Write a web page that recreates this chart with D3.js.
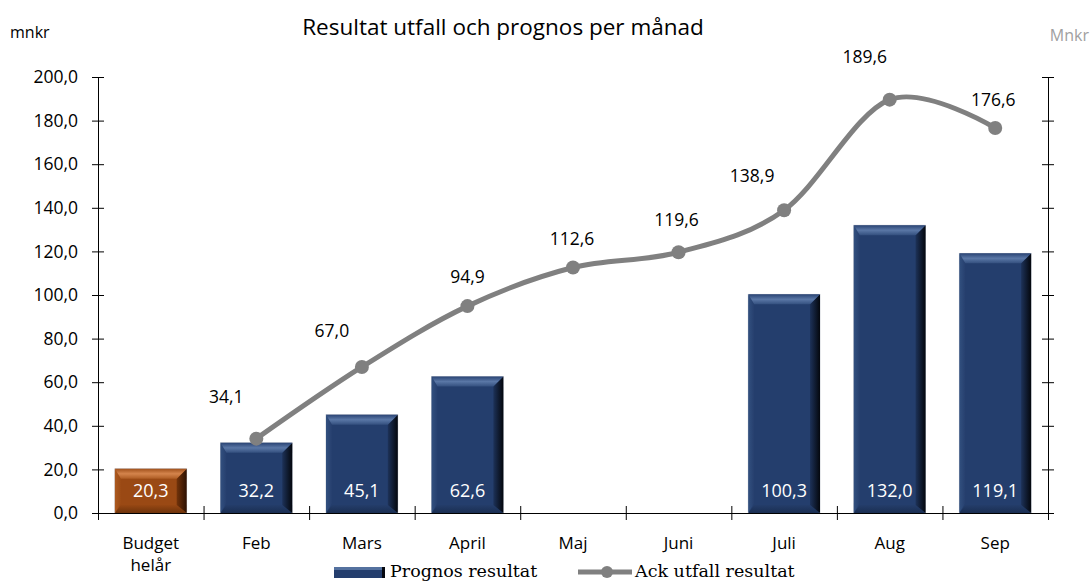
<!DOCTYPE html>
<html>
<head>
<meta charset="utf-8">
<script src="https://cdn.jsdelivr.net/npm/d3@7/dist/d3.min.js"></script>
<style>
	body { margin: 0; background: #fff; }
	svg { display: block; font-family: "Open Sans", sans-serif; }
</style>
</head>
<body>
<div id="chart"></div>
<script>
const categories = ["Budget\nhelår", "Feb", "Mars", "April", "Maj", "Juni", "Juli", "Aug", "Sep"];
const prognosResultat = [20.3, 32.2, 45.1, 62.6, null, null, 100.3, 132.0, 119.1];
const ackUtfall = [null, 34.1, 67.0, 94.9, 112.6, 119.6, 138.9, 189.6, 176.6];
const yTicks = [0, 20, 40, 60, 80, 100, 120, 140, 160, 180, 200];

const width = 1091, height = 582;
const plot = { left: 98, right: 1048, top: 77, bottom: 513 };
const fmt = v => d3.format(".1f")(v).replace(".", ",");

// label nudges for the line values (px), as placed in the original
const labelNudge = [null, [-30, -42], [-30, -36], [0, -29], [-1, -29], [-2, -32], [-32, -34], [-25, -43], [-2, -28]];

const svg = d3.select('#chart').append('svg')
	.attr('width', width)
	.attr('height', height);

const x = d3.scaleBand()
	.domain(categories)
	.range([plot.left, plot.right])
	.paddingInner(0.32)
	.paddingOuter(0.16);

const xEdge = d3.scaleLinear()
	.domain([0, categories.length])
	.range([plot.left, plot.right]);

const y = d3.scaleLinear()
	.domain([0, 200])
	.range([plot.bottom, plot.top]);

const defs = svg.append('defs');

function grad(id, dir, stops) {
	const g = defs.append('linearGradient').attr('id', id);
	if (dir === 'h') g.attr('x1', 0).attr('y1', 0).attr('x2', 1).attr('y2', 0);
	else g.attr('x1', 0).attr('y1', 0).attr('x2', 0).attr('y2', 1);
	stops.forEach(s => g.append('stop').attr('offset', s[0]).attr('stop-color', s[1]));
}

const palettes = {
	blue: {
		base: '#243e6d',
		top: [[0, '#2a4474'], [0.5, '#5a77a6'], [1, '#34507f']],
		right: [[0, '#1d3259'], [1, '#04070d']],
		left: [[0, '#32507f'], [1, '#263f6e']],
		bottom: [[0, '#243d6a'], [1, '#1a2e52']]
	},
	brown: {
		base: '#9a4914',
		top: [[0, '#a1511c'], [0.5, '#d4844c'], [1, '#ad5c24']],
		right: [[0, '#72330a'], [1, '#2c1102']],
		left: [[0, '#ac5a20'], [1, '#9c4b15']],
		bottom: [[0, '#974713'], [1, '#6e330b']]
	}
};
Object.entries(palettes).forEach(([k, p]) => {
	grad(k + '-top', 'v', p.top);
	grad(k + '-right', 'h', p.right);
	grad(k + '-left', 'h', p.left);
	grad(k + '-bottom', 'v', p.bottom);
});

// bars
const barData = categories.map((c, i) => ({ c, v: prognosResultat[i], pal: i === 0 ? 'brown' : 'blue' }))
	.filter(d => d.v !== null);

const bars = svg.append('g').attr('class', 'bars')
	.selectAll('g')
	.data(barData)
	.join('g');

const bev = 10;
bars.each(function(d) {
	const g = d3.select(this);
	const x0 = x(d.c), w = x.bandwidth();
	const y0 = y(d.v), h = y(0) - y(d.v);
	const b = Math.min(bev, h / 3);
	const p = palettes[d.pal];
	g.append('rect')
		.attr('x', x0).attr('y', y0).attr('width', w).attr('height', h)
		.attr('fill', p.base)
		.attr('stroke', '#c4c8d0').attr('stroke-width', 0.8);
	const pts = arr => arr.map(q => q.join(',')).join(' ');
	g.append('polygon').attr('fill', `url(#${d.pal}-left)`)
		.attr('points', pts([[x0, y0], [x0 + b * 0.6, y0 + b], [x0 + b * 0.6, y0 + h - b], [x0, y0 + h]]));
	g.append('polygon').attr('fill', `url(#${d.pal}-bottom)`)
		.attr('points', pts([[x0, y0 + h], [x0 + b * 0.6, y0 + h - b * 0.8], [x0 + w - b, y0 + h - b * 0.8], [x0 + w, y0 + h]]));
	g.append('polygon').attr('fill', `url(#${d.pal}-right)`)
		.attr('points', pts([[x0 + w, y0], [x0 + w, y0 + h], [x0 + w - b, y0 + h - b * 0.8], [x0 + w - b, y0 + b]]));
	g.append('polygon').attr('fill', `url(#${d.pal}-top)`)
		.attr('points', pts([[x0, y0], [x0 + w, y0], [x0 + w - b, y0 + b], [x0 + b * 0.6, y0 + b]]));
	g.append('text')
		.attr('x', x0 + w / 2)
		.attr('y', y(0) - 16)
		.attr('text-anchor', 'middle')
		.attr('fill', '#fff')
		.style('font-size', '18px')
		.text(fmt(d.v));
});

// axes
const yAxisL = d3.axisLeft(y).tickValues(yTicks).tickFormat(fmt).tickSizeInner(6).tickSizeOuter(0).tickPadding(14);
const gL = svg.append('g').attr('transform', `translate(${plot.left},0)`).call(yAxisL);
gL.selectAll('.tick line').attr('x1', 6);
gL.selectAll('text').style('font-size', '17.5px').attr('fill', '#000').style('font-family', '"Open Sans", sans-serif');

const yAxisR = d3.axisRight(y).tickValues(yTicks).tickFormat('').tickSizeInner(6).tickSizeOuter(0);
const gR = svg.append('g').attr('transform', `translate(${plot.right},0)`).call(yAxisR);
gR.selectAll('.tick line').attr('x1', -6);

const xAxis = d3.axisBottom(xEdge).tickValues(d3.range(0, categories.length + 1)).tickFormat('').tickSizeInner(7).tickSizeOuter(0);
const gX = svg.append('g').attr('transform', `translate(0,${plot.bottom})`).call(xAxis);
gX.selectAll('.tick line').attr('y1', -7);

svg.selectAll('.domain, .tick line').attr('stroke', '#000');

// category labels
svg.append('g').selectAll('text')
	.data(categories)
	.join('text')
	.attr('x', d => x(d) + x.bandwidth() / 2)
	.attr('y', 549)
	.attr('text-anchor', 'middle')
	.style('font-size', '17px')
	.each(function(d) {
		const t = d3.select(this);
		d.split('\n').forEach((s, i) => t.append('tspan')
			.attr('x', x(d) + x.bandwidth() / 2)
			.attr('dy', i ? 22 : 0)
			.text(s));
	});

// line
const lineData = categories.map((c, i) => ({ c, v: ackUtfall[i], i })).filter(d => d.v !== null);
const cx = d => x(d.c) + x.bandwidth() / 2;

const line = d3.line()
	.x(cx)
	.y(d => y(d.v))
	.curve(d3.curveCardinal.tension(0));

svg.append('path')
	.datum(lineData)
	.attr('d', line)
	.attr('fill', 'none')
	.attr('stroke', '#808080')
	.attr('stroke-width', 5)
	.attr('stroke-linecap', 'round');

svg.append('g').selectAll('circle')
	.data(lineData)
	.join('circle')
	.attr('cx', cx)
	.attr('cy', d => y(d.v))
	.attr('r', 7)
	.attr('fill', '#808080');

svg.append('g').selectAll('text')
	.data(lineData)
	.join('text')
	.attr('x', d => cx(d) + labelNudge[d.i][0])
	.attr('y', d => y(d.v) + labelNudge[d.i][1])
	.attr('dy', '0.35em')
	.attr('text-anchor', 'middle')
	.style('font-size', '17.5px')
	.attr('fill', '#000')
	.text(d => fmt(d.v));

// titles
svg.append('text').attr('x', 503).attr('y', 35).attr('text-anchor', 'middle')
	.style('font-size', '22.5px').text('Resultat utfall och prognos per månad');
svg.append('text').attr('x', 10).attr('y', 38).style('font-size', '16px').text('mnkr');
svg.append('text').attr('x', 1089).attr('y', 41).attr('text-anchor', 'end')
	.style('font-size', '16px').attr('fill', '#a0a0a0').text('Mnkr');

// legend
const lg = svg.append('g').style('font-family', '"DejaVu Serif", serif').style('font-size', '17.5px');
lg.append('rect').attr('x', 334).attr('y', 567).attr('width', 51).attr('height', 11).attr('fill', '#243e6d');
lg.append('rect').attr('x', 334).attr('y', 567).attr('width', 51).attr('height', 3).attr('fill', '#54719f');
lg.append('rect').attr('x', 382).attr('y', 567).attr('width', 3).attr('height', 11).attr('fill', '#05080f');
lg.append('text').attr('x', 390).attr('y', 577).text('Prognos resultat');
lg.append('line').attr('x1', 578).attr('x2', 632).attr('y1', 572).attr('y2', 572)
	.attr('stroke', '#808080').attr('stroke-width', 5);
lg.append('circle').attr('cx', 607).attr('cy', 572).attr('r', 6).attr('fill', '#808080');
lg.append('text').attr('x', 635).attr('y', 577).text('Ack utfall resultat');
</script>
</body>
</html>
